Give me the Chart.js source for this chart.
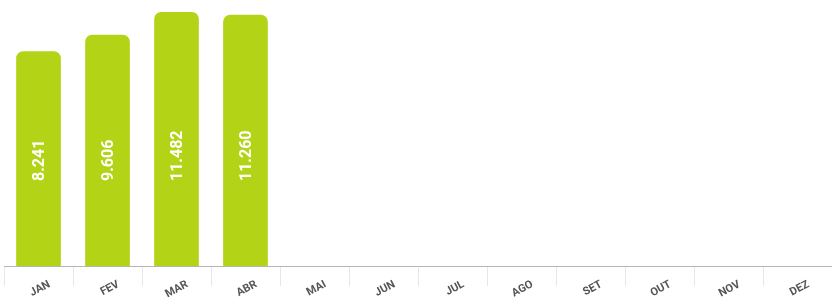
<!DOCTYPE html>
<html>
<head>
<meta charset="utf-8">
<script src="https://cdn.jsdelivr.net/npm/chart.js@4"></script>
<style>
  html, body { margin: 0; padding: 0; background: #fff; }
  #wrap { width: 832px; height: 300px; }
</style>
</head>
<body>
<div id="wrap"><canvas id="barChart" width="832" height="300"></canvas></div>
<script>
const months = ["JAN", "FEV", "MAR", "ABR", "MAI", "JUN", "JUL", "AGO", "SET", "OUT", "NOV", "DEZ"];
const values = [8241, 9606, 11482, 11260, null, null, null, null, null, null, null, null];

const yMin = -9500;
const yMax = 12500;

// 8241 -> "8.241"
function fmt(v) {
    return String(v).replace(/\B(?=(\d{3})+(?!\d))/g, ".");
}

const valueLabels = {
    id: "valueLabels",
    afterDatasetsDraw(chart) {
        const ctx = chart.ctx;
        const meta = chart.getDatasetMeta(0);
        const bottom = chart.chartArea.bottom;
        ctx.save();
        ctx.fillStyle = "#ffffff";
        ctx.font = "bold 16px Roboto, 'DejaVu Sans', sans-serif";
        ctx.textAlign = "left";
        ctx.textBaseline = "middle";
        meta.data.forEach((bar, i) => {
            if (values[i] == null) return;
            ctx.save();
            ctx.translate(bar.x, bottom - 85);
            ctx.rotate(-Math.PI / 2);
            ctx.fillText(fmt(values[i]), 0, 1);
            ctx.restore();
        });
        ctx.restore();
    }
};

const bar = document.getElementById("barChart").getContext("2d");
new Chart(bar, {
    type: "bar",
    data: {
        labels: months,
        datasets: [
            {
                label: "Total",
                data: values,
                base: yMin,
                backgroundColor: "#b3d316",
                borderRadius: { topLeft: 7, topRight: 7 },
                borderSkipped: "start",
                barThickness: 44,
            },
        ],
    },
    options: {
        responsive: false,
        animation: false,
        layout: { padding: { left: 4, right: 0, top: 0, bottom: 0 } },
        plugins: {
            legend: { display: false },
            tooltip: { enabled: false },
        },
        scales: {
            y: {
                display: false,
                min: yMin,
                max: yMax,
            },
            x: {
                afterFit: (scale) => { scale.height = 34; },
                grid: {
                    drawOnChartArea: false,
                    color: "#e6e6e6",
                    tickLength: 20,
                    offset: true,
                },
                border: {
                    display: true,
                    color: "#b4b4b4",
                    dash: [3, 3],
                    width: 1,
                },
                ticks: {
                    color: "#555555",
                    font: { family: "Roboto, 'DejaVu Sans', sans-serif", size: 11, weight: "bold" },
                    minRotation: 28,
                    maxRotation: 28,
                    padding: -8,
                    labelOffset: 11,
                    autoSkip: false,
                },
            },
        },
    },
    plugins: [valueLabels],
});
</script>
</body>
</html>
